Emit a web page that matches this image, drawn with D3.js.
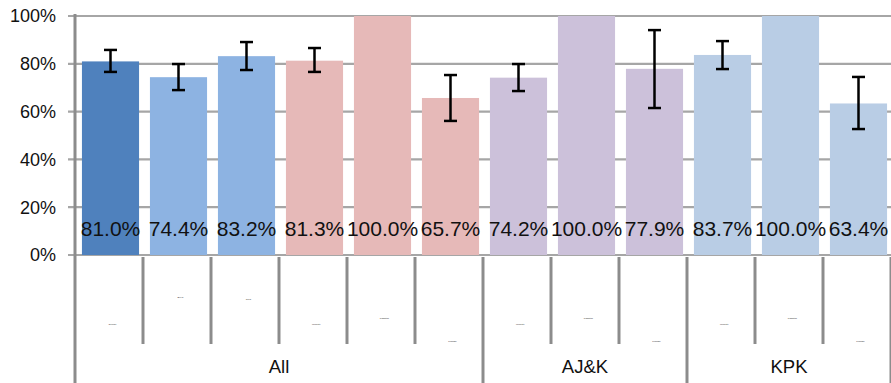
<!DOCTYPE html>
<html>
<head>
<meta charset="utf-8">
<script src="https://cdn.jsdelivr.net/npm/d3@7/dist/d3.min.js"></script>
<style>
  html, body { margin: 0; padding: 0; background: #fff; }
  svg { display: block; font-family: "Liberation Sans", Arial, sans-serif; }
</style>
</head>
<body>
<svg id="chart" width="891" height="383"></svg>
<script>
// Share of respondents by group, with confidence intervals
const groups = ["All", "AJ&K", "KPK"];
const subLabels = ["Overall", "Boys", "Girls", "Minority", "Pashtun", "Punjabi",
                   "Minority", "Pashtun", "Punjabi", "Minority", "Pashtun", "Punjabi"];
const groupOf = [0, 0, 0, 0, 0, 0, 1, 1, 1, 2, 2, 2];
const values = [81.0, 74.4, 83.2, 81.3, 100.0, 65.7, 74.2, 100.0, 77.9, 83.7, 100.0, 63.4];
const ciLow  = [76.6, 69.0, 77.4, 76.6, null, 56.1, 68.6, null, 61.5, 77.8, null, 52.7];
const ciHigh = [85.8, 79.9, 89.1, 86.6, null, 75.3, 79.9, null, 94.1, 89.5, null, 74.5];
const colors = ["#4f81bd", "#8db3e2", "#8db3e2", "#e6b9b8", "#e6b9b8", "#e6b9b8",
                "#ccc1da", "#ccc1da", "#ccc1da", "#b9cde5", "#b9cde5", "#b9cde5"];
const yTicks = [0, 20, 40, 60, 80, 100];
// vertical drop of each small category label inside its cell
const subLabelDrop = [70, 43, 45, 70, 64, 87, 70, 64, 87, 70, 64, 87];

const svg = d3.select("#chart");
const plotLeft = 75, plotRight = 891, plotTop = 16, plotBottom = 255;
const ids = d3.range(values.length);

const x = d3.scaleBand().domain(ids).range([plotLeft + 1.5, plotRight + 1.5]).paddingInner(0.16).paddingOuter(0.08);
const y = d3.scaleLinear().domain([0, 100]).range([plotBottom, plotTop]);

// gridlines
svg.append("g").selectAll("line").data(yTicks).join("line")
  .attr("x1", plotLeft - 7).attr("x2", plotRight)
  .attr("y1", d => y(d)).attr("y2", d => y(d))
  .attr("stroke", "#a6a6a6").attr("stroke-width", 2.2);

// y axis tick labels
svg.append("g").selectAll("text").data(yTicks).join("text")
  .attr("x", 56).attr("y", d => y(d)).attr("dy", "0.36em")
  .attr("text-anchor", "end").attr("font-size", 18).attr("fill", "#111")
  .text(d => d + "%");

// bars
svg.append("g").selectAll("rect").data(ids).join("rect")
  .attr("x", i => x(i)).attr("width", x.bandwidth())
  .attr("y", i => y(values[i])).attr("height", i => y(0) - y(values[i]))
  .attr("fill", i => colors[i]);

// y axis line
svg.append("line").attr("x1", plotLeft).attr("x2", plotLeft).attr("y1", plotTop - 2).attr("y2", 383)
  .attr("stroke", "#8c8c8c").attr("stroke-width", 3);

// category separators
const step = x.step();
const sepX = d3.range(values.length + 1).map(k => plotLeft + k * step);
const groupStarts = new Set([0, 6, 9, 12]);
svg.append("g").selectAll("line").data(d3.range(values.length + 1).filter(k => k > 0)).join("line")
  .attr("x1", k => sepX[k]).attr("x2", k => sepX[k])
  .attr("y1", plotBottom + 2).attr("y2", k => groupStarts.has(k) ? 383 : 344)
  .attr("stroke", "#8c8c8c").attr("stroke-width", 3);

// error bars
const err = svg.append("g").attr("stroke", "#000").attr("stroke-width", 2.5);
ids.filter(i => ciLow[i] != null).forEach(i => {
  const cx = x(i) + x.bandwidth() / 2;
  err.append("line").attr("x1", cx).attr("x2", cx).attr("y1", y(ciHigh[i])).attr("y2", y(ciLow[i]));
  [ciHigh[i], ciLow[i]].forEach(v => {
    err.append("line").attr("x1", cx - 6.5).attr("x2", cx + 6.5).attr("y1", y(v)).attr("y2", y(v));
  });
});

// value labels
svg.append("g").selectAll("text").data(ids).join("text")
  .attr("x", i => x(i) + x.bandwidth() / 2).attr("y", 236)
  .attr("text-anchor", "middle").attr("font-size", 21).attr("fill", "#111")
  .text(i => values[i].toFixed(1) + "%");

// small category labels
svg.append("g").selectAll("text").data(ids).join("text")
  .attr("x", i => sepX[i] + step * 0.55).attr("y", i => plotBottom + subLabelDrop[i])
  .attr("text-anchor", "middle").attr("font-size", 2.5).attr("fill", "#333")
  .text(i => subLabels[i]);

// group labels
svg.append("g").selectAll("text").data(groups).join("text")
  .attr("x", (g, gi) => {
    const members = ids.filter(i => groupOf[i] === gi);
    return (sepX[members[0]] + sepX[members[members.length - 1] + 1]) / 2;
  })
  .attr("y", 373).attr("text-anchor", "middle").attr("font-size", 18.5).attr("fill", "#111")
  .text(d => d);
</script>
</body>
</html>
